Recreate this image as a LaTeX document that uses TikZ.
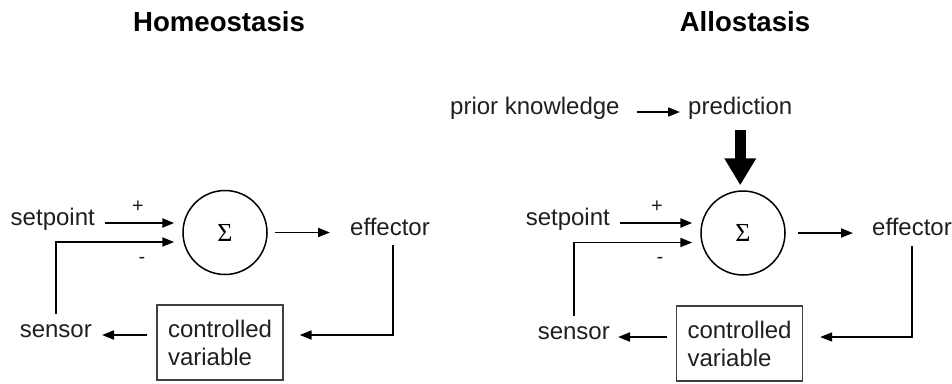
\documentclass[tikz,border=0pt]{standalone}
\usepackage{fontspec}
\setmainfont{Liberation Sans}
\newfontfamily\sigmafont{Liberation Serif}
\usetikzlibrary{arrows.meta,calc}
\begin{document}
\begin{tikzpicture}[x=1pt,y=-1pt,
  lbl/.style={font=\fontsize{24}{28}\selectfont, inner sep=0pt, text=black!88},
  ttl/.style={font=\fontsize{27.6}{32}\selectfont\bfseries, inner sep=0pt, anchor=base},
  sgn/.style={font=\fontsize{20}{22}\selectfont, inner sep=0pt, text=black!88},
  sumnode/.style={draw, circle, line width=1.5pt, minimum size=84pt, inner sep=0pt, font=\sigmafont\fontsize{26}{28}\selectfont},
  cvbox/.style={draw=black!75, line width=1.4pt, font=\fontsize{24}{28}\selectfont, text=black!88, text width=104pt, align=left, inner xsep=11pt, minimum height=75pt},
  arr/.style={line width=1.8pt, -{Triangle[length=12pt,width=9pt]}},
  plusarr/.style={arr, line width=2.3pt},
  bigarr/.style={line width=11pt, -{Triangle[length=27pt,width=30pt]}},
]
\useasboundingbox (0,0) rectangle (952,383);

% ---------------- Homeostasis ----------------
\node[ttl] (t1) at (219,31.7) {Homeostasis};
\node[sumnode] (s1) at (225,232.5) {Σ};
\node[lbl, anchor=mid east] (sp1) at (95,223) {setpoint};
\node[lbl, anchor=mid west] (e1) at (350,233) {effector};
\node[lbl, anchor=mid east] (sn1) at (92,335) {sensor};
\node[cvbox] (cv1) at (220,342.5) {controlled\\variable};
\node[sgn] (p1) at (138,207) {+};
\node[sgn] (m1) at (142,260) {-};

\draw[plusarr, shorten <=10pt, shorten >=8pt] (sp1.mid east) -- (sp1.mid east -| s1.west);
\draw[arr, shorten <=11pt, shorten >=8pt] (sn1.north) |- ($(s1.west)+(0,9.5)$);
\draw[arr, shorten <=7pt, shorten >=20pt] (s1.east) -- (s1.east -| e1.west);
\draw[arr, shorten <=9pt, shorten >=16pt] ([xshift=3pt]e1.south) |- (cv1.east |- sn1.mid east);
\draw[arr, shorten <=9pt, shorten >=10pt] (cv1.west |- sn1.mid east) -- (sn1.mid east);

% ---------------- Allostasis ----------------
\node[ttl] (t2) at (745,31.7) {Allostasis};
\node[lbl, anchor=mid west] (pk) at (450,112) {prior knowledge};
\node[lbl, anchor=mid west] (pr) at (688,112) {prediction};
\draw[arr, shorten <=17pt, shorten >=8pt] (pk.mid east) -- (pr.mid west);

\node[sumnode] (s2) at (743,233) {Σ};
\draw[bigarr, shorten <=10pt, shorten >=5pt] (pr.south) -- (pr.south |- s2.north);

\node[lbl, anchor=mid east] (sp2) at (610,223) {setpoint};
\node[lbl, anchor=mid west] (e2) at (872,233) {effector};
\node[lbl, anchor=mid east] (sn2) at (610,337) {sensor};
\node[cvbox] (cv2) at (739.5,343.5) {controlled\\variable};
\node[sgn] (p2) at (657,207) {+};
\node[sgn] (m2) at (660,260) {-};

\draw[plusarr, shorten <=10pt, shorten >=8pt] (sp2.mid east) -- (sp2.mid east -| s2.west);
\draw[arr, shorten <=11pt, shorten >=8pt] (sn2.north) |- ($(s2.west)+(0,9.5)$);
\draw[arr, shorten <=12pt, shorten >=19pt] (s2.east) -- (s2.east -| e2.west);
\draw[arr, shorten <=10pt, shorten >=17pt] (e2.south) |- (cv2.east |- sn2.mid east);
\draw[arr, shorten <=9pt, shorten >=8pt] (cv2.west |- sn2.mid east) -- (sn2.mid east);
\end{tikzpicture}
\end{document}
